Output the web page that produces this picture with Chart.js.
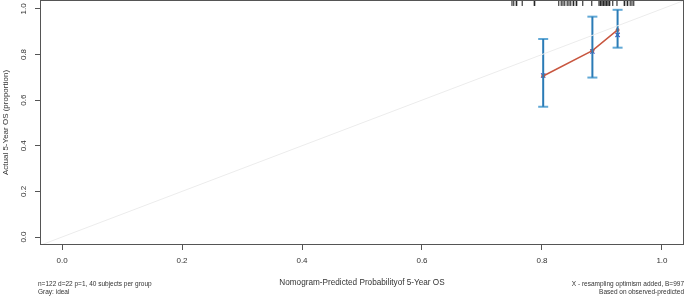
<!DOCTYPE html>
<html>
<head>
<meta charset="utf-8">
<script src="https://cdn.jsdelivr.net/npm/chart.js@4"></script>
<style>
  html, body { margin: 0; padding: 0; background: #fff; }
  #wrap { width: 685px; height: 296px; }
</style>
</head>
<body>
<div id="wrap"><canvas id="calib" width="685" height="296"></canvas></div>
<script>
// calibration groups (40 subjects per group)
const groupPred = [0.802, 0.884, 0.926]
const observed = [0.706, 0.817, 0.908]
const corrected = [0.708, 0.813, 0.886]
const ciLower = [0.571, 0.699, 0.830]
const ciUpper = [0.868, 0.966, 0.996]

// rug of predicted probabilities along the top
const rugPred = [0.750, 0.753, 0.757, 0.758, 0.767, 0.787, 0.788, 0.828, 0.832, 0.835,
  0.838, 0.842, 0.845, 0.848, 0.852, 0.853, 0.857, 0.858, 0.868, 0.883,
  0.895, 0.897, 0.898, 0.900, 0.902, 0.903, 0.905, 0.907, 0.908, 0.910,
  0.912, 0.913, 0.918, 0.925, 0.937, 0.938, 0.942, 0.943, 0.947, 0.950, 0.953]

const tickVals = [0, 0.2, 0.4, 0.6, 0.8, 1.0]
const xTitle = "Nomogram-Predicted Probabilityof 5-Year OS"
const yTitle = "Actual 5-Year OS (proportion)"
const notesLeft = ["n=122 d=22 p=1, 40 subjects per group", "Gray: ideal"]
const notesRight = ["X - resampling optimism added, B=997", "Based on observed-predicted"]

const FONT = "'Liberation Sans', Arial, sans-serif"
const TEXT = "#333"

const datasets = []

// gray ideal line
datasets.push({
  type: "line",
  data: [{ x: -0.2, y: -0.2 }, { x: 1.2, y: 1.2 }],
  borderColor: "#ececec",
  borderWidth: 1,
  pointRadius: 0,
})

// error bars
groupPred.forEach((x, i) => {
  datasets.push({
    type: "line",
    data: [{ x: x, y: ciLower[i] }, { x: x, y: ciUpper[i] }],
    borderColor: "#2a7bb6",
    borderWidth: 2,
    pointRadius: 0,
  })
  datasets.push({
    type: "scatter",
    data: [{ x: x, y: ciLower[i] }, { x: x, y: ciUpper[i] }],
    pointStyle: "line",
    pointRadius: 5,
    borderColor: "#62a9d6",
    borderWidth: 2,
  })
})

// apparent (observed)
datasets.push({
  type: "line",
  data: groupPred.map((x, i) => ({ x: x, y: observed[i] })),
  borderColor: "#c8563f",
  borderWidth: 1.5,
  pointRadius: 2,
  pointBackgroundColor: "#c8563f",
  pointBorderWidth: 0,
})

// bias corrected
datasets.push({
  type: "scatter",
  data: groupPred.map((x, i) => ({ x: x, y: corrected[i] })),
  pointStyle: "crossRot",
  pointRadius: 3,
  borderColor: "#3b4fc4",
  borderWidth: 1.2,
})

// rug
datasets.push({
  type: "scatter",
  data: rugPred.map((x) => ({ x: x, y: 1.026 })),
  pointStyle: "line",
  rotation: 90,
  pointRadius: 3,
  borderColor: "#111",
  borderWidth: 1,
  clip: false,
})

const fixedTicks = (scale) => {
  scale.ticks = tickVals.map((v) => ({ value: v }))
}

const decorations = {
  id: "decorations",
  afterDraw(chart) {
    const { ctx, chartArea: a, scales } = chart
    ctx.save()
    ctx.strokeStyle = "#555"
    ctx.lineWidth = 1
    ctx.strokeRect(a.left + 0.5, a.top + 0.5, a.right - a.left - 1, a.bottom - a.top - 1)

    ctx.fillStyle = TEXT
    ctx.font = "8px " + FONT
    ctx.textAlign = "center"
    ctx.textBaseline = "middle"
    tickVals.forEach((v) => {
      const y = scales.y.getPixelForValue(v)
      ctx.save()
      ctx.translate(24, y)
      ctx.rotate(-Math.PI / 2)
      ctx.fillText(v.toFixed(1), 0, 0)
      ctx.restore()
    })

    ctx.save()
    ctx.translate(6, (a.top + a.bottom) / 2)
    ctx.rotate(-Math.PI / 2)
    ctx.fillText(yTitle, 0, 0)
    ctx.restore()

    ctx.font = "8.2px " + FONT
    ctx.fillText(xTitle, (a.left + a.right) / 2, 283)

    ctx.font = "6.5px " + FONT
    ctx.textAlign = "left"
    notesLeft.forEach((t, i) => ctx.fillText(t, 38, 284 + i * 8))
    ctx.textAlign = "right"
    notesRight.forEach((t, i) => ctx.fillText(t, 684, 284 + i * 8))
    ctx.restore()
  },
}

new Chart(document.getElementById("calib"), {
  data: { datasets },
  options: {
    responsive: false,
    animation: false,
    layout: { autoPadding: false, padding: { top: 0, right: 1, left: 0, bottom: 0 } },
    plugins: { legend: { display: false }, tooltip: { enabled: false } },
    scales: {
      x: {
        type: "linear",
        min: -0.0367,
        max: 1.0367,
        afterBuildTicks: fixedTicks,
        afterFit: (s) => { s.height = 51 },
        grid: { drawOnChartArea: false, drawTicks: true, tickLength: 5, color: "#555" },
        border: { display: false },
        ticks: {
          padding: 6,
          color: TEXT,
          font: { family: FONT, size: 8 },
          callback: (v) => Number(v).toFixed(1),
          maxRotation: 0,
        },
      },
      y: {
        type: "linear",
        min: -0.035,
        max: 1.039,
        afterBuildTicks: fixedTicks,
        afterFit: (s) => { s.width = 40 },
        grid: { drawOnChartArea: false, drawTicks: true, tickLength: 5, color: "#555" },
        border: { display: false },
        ticks: { display: false },
      },
    },
  },
  plugins: [decorations],
})
</script>
</body>
</html>
